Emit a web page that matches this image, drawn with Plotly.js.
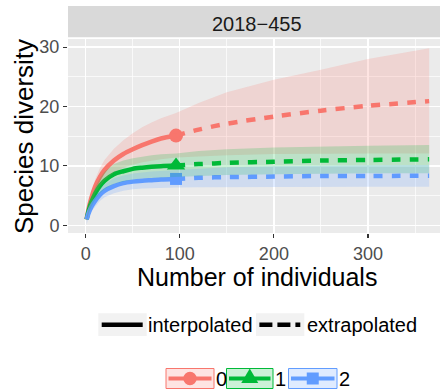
<!DOCTYPE html>
<html><head><meta charset="utf-8">
<script src="https://cdn.plot.ly/plotly-3.0.1.min.js"></script>
<style>html,body{margin:0;padding:0;overflow:hidden;background:#fff;width:440px;height:392px}#plot{width:446px;height:392px}</style>
</head><body><div id="plot"></div><script>
// ---- data ----
const stripLabel = '2018\u2212455';
const xTitle = 'Number of individuals';
const yTitle = 'Species diversity';
const xTickVals = [0, 100, 200, 300];
const xTickLabels = ['0', '100', '200', '300'];
const yTickVals = [0, 10, 20, 30];
const yTickLabels = ['0', '10', '20', '30'];
const lineTypeLabels = ['interpolated', 'extrapolated'];
const groupLabels = ['0', '1', '2'];

const interpX = [1, 3, 6, 10, 15, 20, 30, 40, 50, 60, 70, 80, 96];
const extrapX = [96, 120, 150, 200, 250, 300, 365];
const obsX = 96;

const g0Interp   = [1.0, 2.7, 4.6, 6.5, 8.1, 9.3, 10.9, 12.0, 12.8, 13.5, 14.1, 14.6, 15.1];
const g0InterpHi = [1.2, 3.3, 5.5, 7.7, 9.6, 11.0, 12.9, 14.3, 15.5, 16.5, 17.3, 18.0, 18.9];
const g0InterpLo = [0.8, 2.1, 3.7, 5.3, 6.6, 7.6, 8.9, 9.7, 10.2, 10.6, 10.9, 11.1, 11.4];
const g0Extrap   = [15.1, 16.1, 17.1, 18.3, 19.3, 20.1, 20.9];
const g0ExtrapHi = [18.9, 20.6, 22.4, 24.5, 26.2, 28.0, 29.8];
const g0ExtrapLo = [11.4, 11.6, 11.8, 12.0, 12.1, 12.1, 12.1];

const g1Interp   = [1.0, 2.4, 3.9, 5.3, 6.6, 7.5, 8.6, 9.1, 9.5, 9.7, 9.85, 9.95, 10.05];
const g1InterpHi = [1.2, 2.9, 4.7, 6.4, 7.9, 9.0, 10.3, 10.9, 11.3, 11.6, 11.8, 11.95, 12.1];
const g1InterpLo = [0.8, 1.9, 3.1, 4.3, 5.4, 6.1, 7.0, 7.4, 7.7, 7.9, 8.0, 8.05, 8.1];
const g1Extrap   = [10.05, 10.3, 10.5, 10.7, 10.9, 11.0, 11.1];
const g1ExtrapHi = [12.1, 12.5, 12.8, 13.1, 13.3, 13.4, 13.5];
const g1ExtrapLo = [8.1, 8.3, 8.45, 8.6, 8.7, 8.75, 8.75];

const g2Interp   = [1.0, 2.0, 3.1, 4.1, 5.1, 5.8, 6.6, 7.1, 7.35, 7.5, 7.6, 7.7, 7.8];
const g2InterpHi = [1.1, 2.4, 3.7, 4.9, 6.1, 6.9, 7.9, 8.4, 8.7, 8.9, 9.05, 9.15, 9.3];
const g2InterpLo = [0.15, 1.3, 2.3, 3.2, 4.1, 4.7, 5.4, 5.8, 6.05, 6.2, 6.3, 6.3, 6.35];
const g2Extrap   = [7.8, 8.0, 8.1, 8.2, 8.3, 8.3, 8.35];
const g2ExtrapHi = [9.3, 9.55, 9.75, 9.95, 10.05, 10.1, 10.15];
const g2ExtrapLo = [6.35, 6.4, 6.45, 6.5, 6.5, 6.5, 6.5];

const obsY = [15.1, 10.05, 7.8];

// ---- styles ----
const FONT = 'Liberation Sans, Arial, Helvetica, sans-serif';
const groups = [
  {label: groupLabels[0], color: '#F8766D', fill: 'rgba(248,118,109,0.2)', symbol: 'circle', size: 14,
   interp: g0Interp, hi: g0InterpHi, lo: g0InterpLo, ext: g0Extrap, extHi: g0ExtrapHi, extLo: g0ExtrapLo, obs: obsY[0]},
  {label: groupLabels[1], color: '#00BA38', fill: 'rgba(0,186,56,0.2)', symbol: 'triangle-up', size: 16,
   interp: g1Interp, hi: g1InterpHi, lo: g1InterpLo, ext: g1Extrap, extHi: g1ExtrapHi, extLo: g1ExtrapLo, obs: obsY[1]},
  {label: groupLabels[2], color: '#619CFF', fill: 'rgba(97,156,255,0.2)', symbol: 'square', size: 12,
   interp: g2Interp, hi: g2InterpHi, lo: g2InterpLo, ext: g2Extrap, extHi: g2ExtrapHi, extLo: g2ExtrapLo, obs: obsY[2]}
];

const traces = [];
// points
groups.forEach(g => traces.push({type: 'scatter', mode: 'markers', x: [obsX], y: [g.obs],
  marker: {color: g.color, symbol: g.symbol, size: g.size, line: {width: 0}}, hoverinfo: 'skip'}));
// lines
groups.forEach(g => {
  traces.push({type: 'scatter', mode: 'lines', x: interpX, y: g.interp,
    line: {color: g.color, width: 4.5, shape: 'spline', smoothing: 0.8}, hoverinfo: 'skip'});
  traces.push({type: 'scatter', mode: 'lines', x: extrapX, y: g.ext,
    line: {color: g.color, width: 4.5, dash: '9px,9px', shape: 'spline', smoothing: 0.8}, hoverinfo: 'skip'});
});
// ribbons
groups.forEach(g => {
  const xs = interpX.concat(extrapX.slice(1));
  const hi = g.hi.concat(g.extHi.slice(1));
  const lo = g.lo.concat(g.extLo.slice(1));
  traces.push({type: 'scatter', mode: 'lines', x: xs.concat(xs.slice().reverse()),
    y: hi.concat(lo.slice().reverse()), fill: 'toself', fillcolor: g.fill,
    line: {width: 0, color: 'rgba(0,0,0,0)'}, hoverinfo: 'skip'});
});

// ---- layout geometry ----
const W = 446, H = 392, L = 68, T = 39, PW = 378, PH = 194;
const px = x => (x - L) / PW;
const py = y => (T + PH - y) / PH;

const shapes = [];
const annotations = [];

// strip
shapes.push({type: 'rect', xref: 'paper', yref: 'paper', x0: 0, x1: 1, y0: py(37.3), y1: py(6),
  fillcolor: '#D9D9D9', line: {width: 0}, layer: 'below'});
annotations.push({xref: 'paper', yref: 'paper', x: 0.5, y: py(23.6), xanchor: 'center', yanchor: 'middle',
  text: stripLabel, showarrow: false, font: {family: FONT, size: 20, color: '#1A1A1A'}});

// axis titles
annotations.push({xref: 'paper', yref: 'paper', x: 0.5, y: py(276.5), xanchor: 'center', yanchor: 'middle',
  text: xTitle, showarrow: false, font: {family: FONT, size: 25, color: '#000'}});
annotations.push({xref: 'paper', yref: 'paper', x: px(24), y: py(137), xanchor: 'center', yanchor: 'middle',
  text: yTitle, textangle: -90, showarrow: false, font: {family: FONT, size: 26, color: '#000'}});

// linetype legend
const ltKeys = [
  {x0: 98.3, x1: 146.7, dash: 'solid', tx: 147.3},
  {x0: 256, x1: 304.3, dash: '13px,5px', tx: 305.5}
];
ltKeys.forEach((k, i) => {
  shapes.push({type: 'rect', xref: 'paper', yref: 'paper', x0: px(k.x0), x1: px(k.x1), y0: py(336), y1: py(313.3),
    fillcolor: '#F2F2F2', line: {width: 0}});
  shapes.push({type: 'line', xref: 'paper', yref: 'paper', x0: px(k.x0 + 3.4), x1: px(k.x1 - 4), y0: py(324.7), y1: py(324.7),
    line: {color: '#000', width: 4.5, dash: k.dash}});
  annotations.push({xref: 'paper', yref: 'paper', x: px(k.tx), y: py(324.7), xanchor: 'left', yanchor: 'middle',
    text: lineTypeLabels[i], showarrow: false, borderpad: 0, font: {family: FONT, size: 20, color: '#000'}});
});

// group legend
const gKeys = [{x0: 166, x1: 214}, {x0: 226.5, x1: 273}, {x0: 288.5, x1: 337}];
const ky0 = 368.5, ky1 = 388.5, kyc = 378.5;
gKeys.forEach((k, i) => {
  const g = groups[i];
  const cx = (k.x0 + k.x1) / 2;
  shapes.push({type: 'rect', xref: 'paper', yref: 'paper', x0: px(k.x0), x1: px(k.x1), y0: py(ky1), y1: py(ky0),
    fillcolor: g.fill, line: {color: g.color, width: 1}});
  shapes.push({type: 'line', xref: 'paper', yref: 'paper', x0: px(k.x0 + 2.5), x1: px(k.x1 - 2.5), y0: py(kyc), y1: py(kyc),
    line: {color: g.color, width: 4}});
  if (g.symbol === 'circle') {
    shapes.push({type: 'circle', xref: 'paper', yref: 'paper', x0: px(cx - 6.7), x1: px(cx + 6.7), y0: py(kyc + 6.7), y1: py(kyc - 6.7),
      fillcolor: g.color, line: {width: 0}});
  } else if (g.symbol === 'triangle-up') {
    const path = 'M' + px(cx - 8.5) + ',' + py(kyc + 4.5) + ' L' + px(cx + 8.5) + ',' + py(kyc + 4.5) +
      ' L' + px(cx) + ',' + py(kyc - 10) + ' Z';
    shapes.push({type: 'path', xref: 'paper', yref: 'paper', path: path, fillcolor: g.color, line: {width: 0}});
  } else {
    shapes.push({type: 'rect', xref: 'paper', yref: 'paper', x0: px(cx - 6), x1: px(cx + 6), y0: py(kyc + 6), y1: py(kyc - 6),
      fillcolor: g.color, line: {width: 0}});
  }
  annotations.push({xref: 'paper', yref: 'paper', x: px(k.x1 + 0.5), y: py(kyc), xanchor: 'left', yanchor: 'middle',
    text: g.label, showarrow: false, borderpad: 0, font: {family: FONT, size: 20, color: '#000'}});
});

const axisCommon = {
  showgrid: true, gridcolor: '#FFFFFF', gridwidth: 1.4, zeroline: false, showline: false,
  ticks: 'outside', ticklen: 4, tickwidth: 1.1, tickcolor: '#333333',
  tickfont: {family: FONT, size: 18, color: '#4D4D4D'}, fixedrange: true, tickmode: 'array'
};

const layout = {
  width: W, height: H,
  margin: {l: L, r: W - L - PW, t: T, b: H - T - PH, pad: 0},
  paper_bgcolor: '#FFFFFF', plot_bgcolor: '#EBEBEB', showlegend: false,
  xaxis: Object.assign({}, axisCommon, {range: [-18.8, 382.9], tickvals: xTickVals, ticktext: xTickLabels,
    minor: {tickvals: [50, 150, 250, 350], showgrid: true, gridcolor: '#FFFFFF', gridwidth: 0.7, ticks: ''}}),
  yaxis: Object.assign({}, axisCommon, {range: [-1.30, 31.36], tickvals: yTickVals, ticktext: yTickLabels,
    minor: {tickvals: [5, 15, 25], showgrid: true, gridcolor: '#FFFFFF', gridwidth: 0.7, ticks: ''}}),
  shapes: shapes, annotations: annotations
};

Plotly.newPlot('plot', traces, layout, {staticPlot: true, displayModeBar: false});
</script></body></html>
